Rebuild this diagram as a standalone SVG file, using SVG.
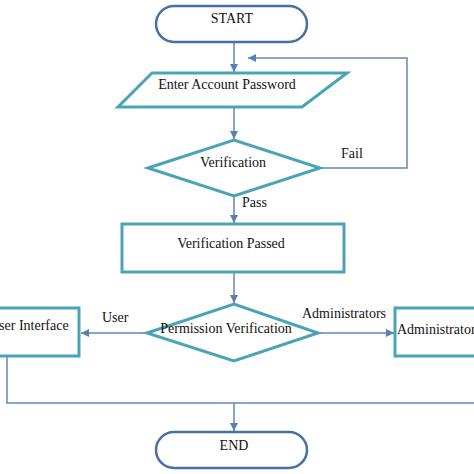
<svg xmlns="http://www.w3.org/2000/svg" width="474" height="474" viewBox="0 0 474 474">
<defs>
<marker id="ah" viewBox="0 0 10 10" refX="10" refY="5" markerWidth="8" markerHeight="8" markerUnits="userSpaceOnUse" orient="auto"><path d="M0,0L10,5L0,10z" fill="#5a7fb0"/></marker>
<style>
.sh{fill:#fff;stroke:#4ba3b6;stroke-width:3}
.tm{fill:#fff;stroke:#4a6fa5;stroke-width:2.5}
.c{fill:none;stroke:#6687b5;stroke-width:1.5}
.a{marker-end:url(#ah)}
text{font-family:'Liberation Serif','DejaVu Serif',serif;font-size:14px;fill:#111}
.m{text-anchor:middle}
</style>
</defs>
<rect width="474" height="474" fill="#fff"/>
<g id="connectors">
<path class="c a" d="M234,42V72"/>
<path class="c a" d="M234,107V139"/>
<path class="c a" d="M320,168H407V58H248"/>
<path class="c a" d="M234,196V223"/>
<path class="c a" d="M234,272V303"/>
<path class="c a" d="M147,333H81"/>
<path class="c a" d="M318,333H394"/>
<path class="c" d="M7,356V403H474"/>
<path class="c a" d="M234,403V431"/>
<text x="341" y="158">Fail</text>
<text x="242" y="207">Pass</text>
<text x="102" y="322">User</text>
<text x="302" y="318">Administrators</text>
</g>
<g id="start"><rect class="tm" x="156" y="6" width="151" height="36" rx="18"/><text class="m" x="232" y="23">START</text></g>
<g id="enter"><path class="sh" d="M152,73H347L302,107H118z"/><text class="m" x="227" y="89">Enter Account Password</text></g>
<g id="verify"><path class="sh" d="M148,168L234,140L320,168L234,196z"/><text class="m" x="233" y="167">Verification</text></g>
<g id="passed"><rect class="sh" x="122" y="224" width="222" height="48"/><text class="m" x="231" y="248">Verification Passed</text></g>
<g id="perm"><path class="sh" d="M147,333L234,304L318,333L234,361z"/><text class="m" x="226" y="333">Permission Verification</text></g>
<g id="user"><rect class="sh" x="-20" y="308" width="99" height="48"/><text x="-11" y="330">User Interface</text></g>
<g id="admin"><rect class="sh" x="395" y="308" width="100" height="48"/><text x="397" y="334">Administrator</text></g>
<g id="end"><rect class="tm" x="156" y="432" width="151" height="36" rx="18"/><text class="m" x="234" y="450">END</text></g>
</svg>
